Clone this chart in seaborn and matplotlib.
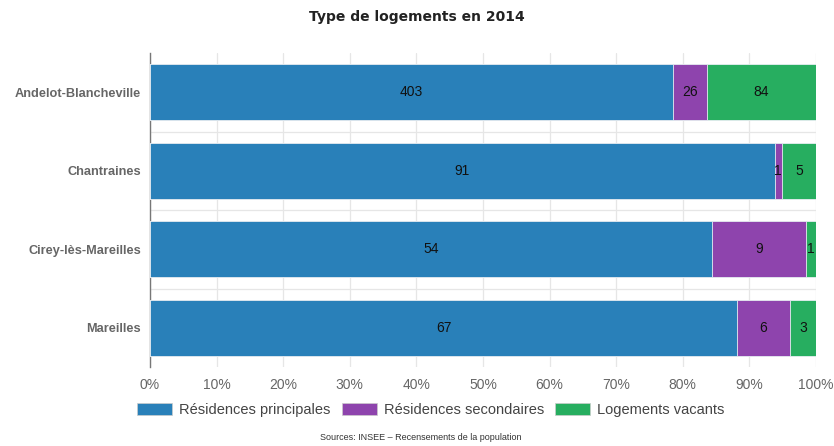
import numpy as np
import pandas as pd
import matplotlib
matplotlib.use("Agg")
import matplotlib.pyplot as plt
import seaborn as sns
from matplotlib.patches import Patch

communes = ["Andelot-Blancheville", "Chantraines", "Cirey-lès-Mareilles", "Mareilles"]
principales = [403, 91, 54, 67]
secondaires = [26, 1, 9, 6]
vacants = [84, 5, 1, 3]
series_names = ["Résidences principales", "Résidences secondaires", "Logements vacants"]
colors = ["#2980b9", "#8e44ad", "#27ae60"]
tick_values = [0, 10, 20, 30, 40, 50, 60, 70, 80, 90, 100]

sns.set_style("white")
plt.rcParams['font.family'] = ['Liberation Sans', 'DejaVu Sans']

counts = np.array([principales, secondaires, vacants], dtype=float)
totals = counts.sum(axis=0)
pct = counts / totals * 100
cum = np.cumsum(pct, axis=0)

fig = plt.figure(figsize=(8.34, 4.46), dpi=100)
ax = fig.add_axes([150/834, 1-367/446, (816-150)/834, (367-53)/446])

# draw from the end cumulative back to the first so segments stack
for i in reversed(range(3)):
    df = pd.DataFrame({"commune": communes, "val": cum[i]})
    sns.barplot(data=df, x="val", y="commune", orient="h", color=colors[i],
                width=0.71, edgecolor="#e8eef2", linewidth=0.6, saturation=1,
                ax=ax, zorder=3)

for j in range(len(communes)):
    for i in range(3):
        start = cum[i][j] - pct[i][j]
        center = start + pct[i][j] / 2
        ax.text(center, j, f"{int(counts[i][j])}", ha="center", va="center",
                fontsize=10, color="#111111", zorder=5)

ax.set_xlim(0, 100)
ax.set_ylim(len(communes) - 0.5, -0.5)
ax.set_xticks(tick_values)
ax.set_xticklabels([f"{v}%" for v in tick_values], fontsize=10, color="#666666")
ax.set_yticks(range(len(communes)))
ax.set_yticklabels(communes, fontsize=9.2, color="#666666", fontweight="bold")
ax.set_xlabel("")
ax.set_ylabel("")

for v in tick_values:
    ax.axvline(v, color="#e6e6e6", linewidth=0.9, zorder=1)
for k in range(len(communes) - 1):
    ax.axhline(k + 0.5, color="#e6e6e6", linewidth=0.9, zorder=1)

for s in ["top", "right", "bottom"]:
    ax.spines[s].set_visible(False)
ax.spines["left"].set_color("#777777")
ax.spines["left"].set_linewidth(1.0)
ax.tick_params(axis="x", length=4, color="#e6e6e6", pad=4)
ax.tick_params(axis="y", length=0, pad=6.5)

fig.text(0.5, 1-17/446, "Type de logements en 2014", ha="center", va="center",
         fontsize=10, fontweight="bold", color="#222222", family=["DejaVu Sans"])

handles = [Patch(facecolor=c, edgecolor="#cccccc", linewidth=0.5) for c in colors]
fig.legend(handles, series_names, loc="center left", bbox_to_anchor=(124/834, 1-410/446),
           ncol=3, frameon=False, fontsize=10.5, labelcolor="#444444",
           handlelength=2.4, handleheight=0.9, handletextpad=0.5, columnspacing=0.75)

fig.text(421/834, 1-438/446, "Sources: INSEE \u2013 Recensements de la population",
         ha="center", va="center", fontsize=6.5, color="#333333")

fig.savefig("out.png", dpi=100)
